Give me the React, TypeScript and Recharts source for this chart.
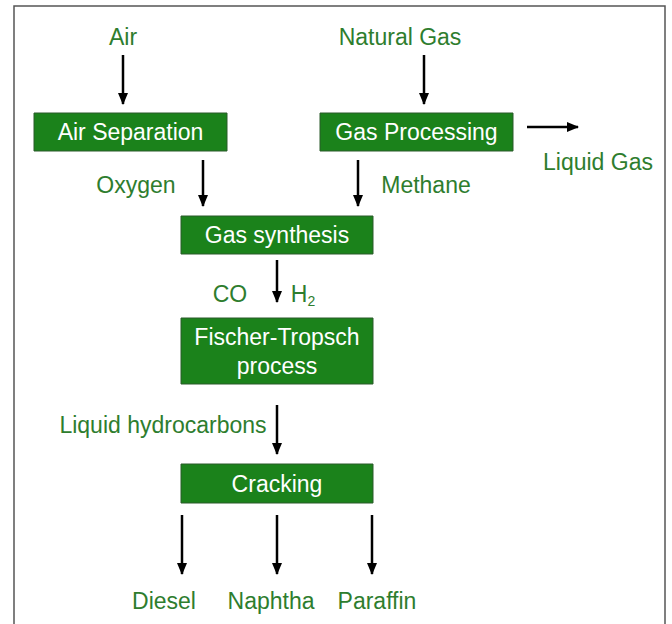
import { ScatterChart, Scatter, XAxis, YAxis, ReferenceArea, ReferenceLine } from "recharts";

const W = 672;
const H = 624;

// process steps (green boxes)
const stepNames = [["Air Separation"], ["Gas Processing"], ["Gas synthesis"], ["Fischer-Tropsch", "process"], ["Cracking"]];
const stepLeft = [34, 320, 181, 181, 181];
const stepRight = [227, 513, 373, 373, 373];
const stepTop = [113, 113, 216, 318, 464];
const stepBottom = [151, 151, 254, 384, 503];

// streams (green captions)
const streamNames = ["Air", "Natural Gas", "Liquid Gas", "Oxygen", "Methane", "CO", "H", "Liquid hydrocarbons", "Diesel", "Naphtha", "Paraffin"];
const streamSub = ["", "", "", "", "", "", "2", "", "", "", ""];
const streamX = [123, 400, 598, 136, 426, 230, 303, 163, 164, 271, 377];
const streamY = [37, 37, 162, 185, 185, 294, 294, 425, 601, 601, 601];

// flow arrows
const arrowX1 = [123, 424, 527, 203, 358, 277, 277, 182, 277, 372];
const arrowY1 = [55, 55, 127, 160, 160, 260, 405, 515, 515, 515];
const arrowX2 = [123, 424, 578, 203, 358, 277, 277, 182, 277, 372];
const arrowY2 = [104, 104, 127, 206, 206, 302, 454, 574, 574, 574];

const BOX = "#1b821b";
const TEXT = "#2e7d2e";
const FONT = "'Liberation Sans', Arial, sans-serif";

const steps = stepNames.map((lines, i) => ({
  lines,
  x: (stepLeft[i] + stepRight[i]) / 2,
  y: (stepTop[i] + stepBottom[i]) / 2,
}));

const streams = streamNames.map((name, i) => ({ name, sub: streamSub[i], x: streamX[i], y: streamY[i] }));

const StepLabel = (props: any) => {
  const { cx, cy, payload } = props;
  const n = payload.lines.length;
  return (
    <text x={cx} y={cy} textAnchor="middle" dominantBaseline="central" fill="#ffffff" fontSize={23} fontFamily={FONT}>
      {payload.lines.map((l: string, k: number) => (
        <tspan key={k} x={cx} dy={k === 0 ? -((n - 1) * 29) / 2 : 29}>
          {l}
        </tspan>
      ))}
    </text>
  );
};

const StreamLabel = (props: any) => {
  const { cx, cy, payload } = props;
  return (
    <text x={cx} y={cy} textAnchor="middle" dominantBaseline="central" fill={TEXT} fontSize={23} fontFamily={FONT}>
      {payload.name}
      {payload.sub && (
        <tspan fontSize={14} dy={7}>
          {payload.sub}
        </tspan>
      )}
    </text>
  );
};

export default function App() {
  return (
    <div style={{ position: "absolute", left: 0, top: 0, background: "#fff" }}>
      <ScatterChart width={W} height={H} margin={{ top: 0, right: 0, bottom: 0, left: 0 }}>
        <defs>
          <marker id="head" markerUnits="userSpaceOnUse" markerWidth={12} markerHeight={10} refX={11} refY={5} orient="auto">
            <path d="M0,0 L12,5 L0,10 z" fill="#000" />
          </marker>
        </defs>
        <XAxis type="number" dataKey="x" domain={[0, W]} hide />
        <YAxis type="number" dataKey="y" domain={[0, H]} reversed hide />
        <ReferenceArea x1={14} x2={665} y1={6} y2={H + 20} ifOverflow="visible" fill="none" stroke="#555" strokeWidth={1.5} />
        {stepNames.map((_, i) => (
          <ReferenceArea
            key={"s" + i}
            x1={stepLeft[i]}
            x2={stepRight[i]}
            y1={stepTop[i]}
            y2={stepBottom[i]}
            fill={BOX}
            fillOpacity={1}
            stroke="#2a5a2a"
            strokeWidth={1}
          />
        ))}
        {arrowX1.map((_, i) => (
          <ReferenceLine
            key={"a" + i}
            segment={[
              { x: arrowX1[i], y: arrowY1[i] },
              { x: arrowX2[i], y: arrowY2[i] },
            ]}
            stroke="#000"
            strokeWidth={2.5}
            markerEnd="url(#head)"
          />
        ))}
        <Scatter data={steps} shape={StepLabel} isAnimationActive={false} />
        <Scatter data={streams} shape={StreamLabel} isAnimationActive={false} />
      </ScatterChart>
    </div>
  );
}
